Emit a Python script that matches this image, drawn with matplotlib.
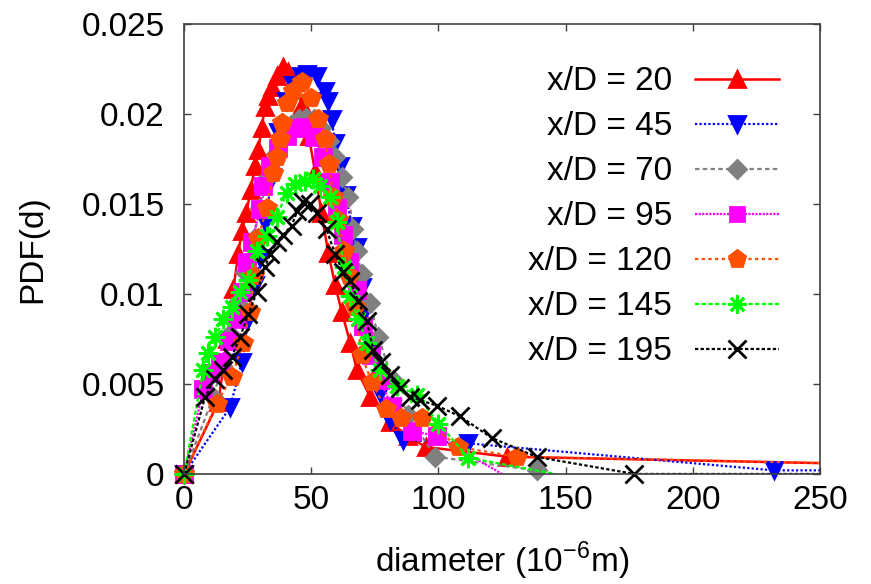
import numpy as np
import matplotlib
matplotlib.use("Agg")
import matplotlib.pyplot as plt

plt.rcParams['font.family'] = ['Liberation Sans', 'DejaVu Sans']
plt.rcParams['mathtext.fontset'] = 'custom'
plt.rcParams['mathtext.rm'] = 'Liberation Sans'

# ---- data (diameter in 1e-6 m, PDF) ----
d_20 = [0, 13.5, 17, 19.4, 21.3, 22.7, 24.5, 26.2, 27.9, 29.2, 30.5, 31.8, 33.1, 34.5,
        36.4, 39, 41, 43.5, 46.3, 49, 51.5, 54, 56.7, 59.4, 62, 65.3, 67.9, 73.1, 81,
        88, 95, 127, 320]
p_20 = [0, 0.0040, 0.0075, 0.0103, 0.0122, 0.0135, 0.0145, 0.0158, 0.0171, 0.0180,
        0.0192, 0.0204, 0.0210, 0.0215, 0.0221, 0.0226, 0.02235, 0.0218, 0.0205, 0.0188,
        0.0168, 0.0145, 0.0123, 0.0105, 0.0090, 0.0073, 0.0058, 0.0043, 0.0029, 0.0021,
        0.0015, 0.00096, 0.0004]

d_45 = [0, 18.1, 22.7, 25.3, 28, 30, 32, 34.5, 37, 40, 43, 46, 48.2, 52.2, 55.4, 56.7,
        58, 59.4, 61.3, 63.5, 66, 67.9, 69.8, 71.5, 73.8, 77, 81, 86.2, 111.8, 232, 300]
p_45 = [0, 0.0037, 0.0062, 0.0086, 0.0105, 0.0120, 0.0140, 0.0165, 0.0190, 0.0207,
        0.0216, 0.0221, 0.0222, 0.0221, 0.0213, 0.0207, 0.0197, 0.0184, 0.0171, 0.0155,
        0.0138, 0.0126, 0.0104, 0.0092, 0.0072, 0.0045, 0.0030, 0.0019, 0.0017, 0.0002,
        0.0002]

d_70 = [0, 11.5, 15, 18, 21, 24, 27, 30, 33, 36, 39, 42, 45, 48, 51, 54, 57, 59.5, 62,
        64.6, 66.6, 67.9, 69.8, 73.1, 76.4, 82, 88, 98.7, 138.6]
p_70 = [0, 0.0043, 0.0060, 0.0078, 0.0095, 0.0112, 0.0130, 0.0148, 0.0165, 0.0178,
        0.0188, 0.0194, 0.0197, 0.0198, 0.0197, 0.0192, 0.0185, 0.0176, 0.0165, 0.0154,
        0.0136, 0.0124, 0.0111, 0.0095, 0.0076, 0.0052, 0.0033, 0.00096, 0.0002]

d_95 = [0, 7.6, 10.2, 14.2, 17.5, 20.7, 22.6, 24.6, 26.6, 29.9, 31, 33.8, 37, 40.5, 44,
        47.5, 51, 54.8, 57.4, 60, 62.5, 65, 67.9, 70.5, 73.5, 77, 81.6, 89.5, 99.3, 125]
p_95 = [0, 0.0047, 0.0056, 0.0062, 0.0074, 0.0086, 0.0101, 0.0118, 0.0129, 0.0147,
        0.0160, 0.0171, 0.0181, 0.0188, 0.0192, 0.0193, 0.0187, 0.0176, 0.0162, 0.0148,
        0.0133, 0.0118, 0.0102, 0.0082, 0.0066, 0.0052, 0.0038, 0.0024, 0.0021, 0.0]

d_120 = [0, 12.8, 18.7, 23.3, 25.9, 27.5, 29.2, 32.5, 35.1, 36.4, 37.7, 38.4, 40.4, 43,
         46.3, 50.1, 52.8, 55.4, 56.8, 58.7, 60.6, 63, 65, 67.2, 69.8, 73.8, 79.3, 85.2,
         93.7, 107.8, 130.7, 290]
p_120 = [0, 0.0039, 0.0054, 0.0073, 0.0090, 0.0110, 0.0131, 0.0148, 0.0167, 0.0176,
         0.0186, 0.0195, 0.0206, 0.0213, 0.0218, 0.0209, 0.0197, 0.0186, 0.0172, 0.0154,
         0.0141, 0.0124, 0.0110, 0.0093, 0.0066, 0.0051, 0.0036, 0.0031, 0.0031, 0.0015,
         0.00096, 0.0005]

d_145 = [0, 7.6, 9.5, 12.2, 15.5, 18.7, 22, 25.3, 28.6, 32.5, 36.4, 40.4, 43.5, 47.5,
         50.5, 53.5, 57.4, 60, 62.8, 65.3, 68.5, 71.8, 77, 83.6, 91.5, 100, 111.8, 146]
p_145 = [0, 0.0058, 0.0067, 0.0076, 0.0086, 0.0093, 0.0101, 0.0108, 0.0124, 0.0132,
         0.0143, 0.0156, 0.0161, 0.0163, 0.0164, 0.0160, 0.0154, 0.0140, 0.0115, 0.0099,
         0.0086, 0.0073, 0.0058, 0.0049, 0.0044, 0.0028, 0.0009, 0.0]

d_195 = [0, 8.3, 12.2, 15.5, 18.7, 22, 25.3, 28.6, 31.8, 33.8, 36.4, 39, 42.3, 44.5,
         46.9, 49.5, 52.2, 56, 59.4, 62.6, 65.3, 68.5, 71.8, 74.4, 77.5, 81, 84.9, 88.8,
         92.8, 99.3, 108.5, 121, 138.6, 177, 260]
p_195 = [0, 0.0043, 0.0053, 0.0058, 0.0065, 0.0076, 0.0089, 0.0101, 0.0115, 0.0122,
         0.0129, 0.0133, 0.0138, 0.0146, 0.0151, 0.0150, 0.0145, 0.0136, 0.0122, 0.0112,
         0.0107, 0.0096, 0.0085, 0.0069, 0.0062, 0.0055, 0.0048, 0.0043, 0.0041, 0.0038,
         0.0032, 0.0020, 0.00095, 0.0, 0.0]

# label, d, pdf, colour, line style, marker, marker size, last points drawn without marker
series = [
    ("x/D = 20",  d_20,  p_20,  "#ff0000", "-",            "^", 12, 0),
    ("x/D = 45",  d_45,  p_45,  "#0000ff", (0, (1, 1)),     "v", 12, 0),
    ("x/D = 70",  d_70,  p_70,  "#808080", (0, (2, 1.5)),   "D", 9.5, 0),
    ("x/D = 95",  d_95,  p_95,  "#ff00ff", (0, (1, 0.6)),   "s", 11, 1),
    ("x/D = 120", d_120, p_120, "#ff4f00", (0, (1.5, 1.5)), "p", 13, 0),
    ("x/D = 145", d_145, p_145, "#00ff00", (0, (2, 1)),     (8, 2, 0), 14, 1),
    ("x/D = 195", d_195, p_195, "#000000", (0, (1.5, 1)),   "x", 13, 0),
]

fig = plt.figure(figsize=(8.71, 5.84), dpi=100)
ax = fig.add_axes([0.2113, 0.1884, 0.7302, 0.7705])

for label, d, p, col, ls, mk, ms, hide in series:
    d = np.array(d)
    p = np.array(p)
    lw = 1.8 if ls == "-" else 1.6
    ax.plot(d, p, color=col, linestyle=ls, lw=lw)
    inside = np.flatnonzero(d <= 250)
    if hide:
        inside = inside[:-hide]
    ax.plot(d[inside], p[inside], linestyle="none", marker=mk, ms=ms, color=col,
            mec=col, mew=2, clip_on=False)
    # legend proxy
    ax.plot([], [], color=col, linestyle=ls, lw=lw, marker=mk, ms=ms * 0.95,
            mec=col, mew=2, label=label)

ax.set_xlim(0, 250)
ax.set_ylim(0, 0.025)
ax.set_xticks([0, 50, 100, 150, 200, 250])
ax.set_yticks([0, 0.005, 0.01, 0.015, 0.02, 0.025])
ax.set_yticklabels(["0", "0.005", "0.01", "0.015", "0.02", "0.025"])
ax.tick_params(direction="in", length=5, width=1, top=True, right=True,
               labelsize=24, color="#404040")
ax.tick_params(axis="y", pad=14)
ax.tick_params(axis="x", pad=8)
for s in ax.spines.values():
    s.set_color("#404040")
    s.set_linewidth(1.2)

ax.set_xlabel("diameter (10$^{-6}$m)", fontsize=24, labelpad=17)
ax.set_ylabel("PDF(d)", fontsize=24, labelpad=24)

ax.legend(loc="upper right", bbox_to_anchor=(0.9717, 0.9578), frameon=False,
          markerfirst=False, fontsize=24, handlelength=2.5, handletextpad=0.7,
          labelspacing=0.42, borderaxespad=0.3, numpoints=1)

fig.savefig("out.png", dpi=100)
